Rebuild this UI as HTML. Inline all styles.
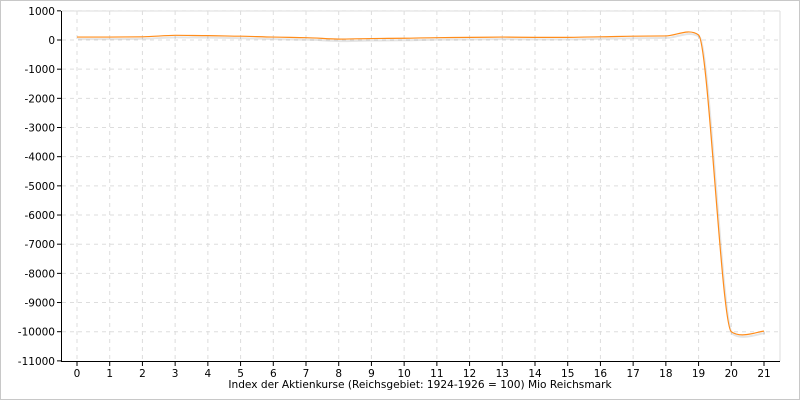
<!DOCTYPE html>
<html><head><meta charset="utf-8"><style>
body{margin:0;background:#fff;font-family:"DejaVu Sans","Liberation Sans",sans-serif}
#wrap{position:relative;width:798px;height:398px;border:1px solid #c8c8c8}
</style></head><body>
<div id="wrap">
<svg id="chart" width="798" height="398"></svg>
</div>
<script>
const xCategories=[0,1,2,3,4,5,6,7,8,9,10,11,12,13,14,15,16,17,18,19,20,21];
const seriesValues=[100,100,110,160,150,130,100,80,30,50,60,80,90,100,90,90,110,130,140,170,-10000,-9980];
const yTicks=[1000,0,-1000,-2000,-3000,-4000,-5000,-6000,-7000,-8000,-9000,-10000,-11000];
const xLabel="Index der Aktienkurse (Reichsgebiet: 1924-1926 = 100) Mio Reichsmark";

const svg=document.getElementById('chart');
const NS='http://www.w3.org/2000/svg';
const X0=76,X1=763,Y0=39,PX=(1000/29.17);
function xs(v){return X0+(v-0)*(X1-X0)/21;}
function ys(v){return Y0-v/PX;}
function mk(t,a,p){const e=document.createElementNS(NS,t);for(const k in a)e.setAttribute(k,a[k]);(p||svg).appendChild(e);return e;}
const g=mk('g',{});


yTicks.forEach(t=>{const y=ys(t);
 if(t!==-11000){mk('line',{x1:61,x2:779,y1:y,y2:y,stroke:'#ddd','stroke-dasharray':'4,4'},g);}
 mk('line',{x1:56,x2:60,y1:y,y2:y,stroke:'#000'});
 const tx=mk('text',{x:54,y:y+4,'text-anchor':'end','font-size':'10.5',fill:'#000'});tx.textContent=t;
 
 
});
xCategories.forEach(c=>{const x=xs(c);
 mk('line',{x1:x,x2:x,y1:10,y2:360,stroke:'#ddd','stroke-dasharray':'4,4'},g);
 mk('line',{x1:x,x2:x,y1:360,y2:365,stroke:'#000'});
 const tx=mk('text',{x:x,y:376,'text-anchor':'middle','font-size':'10.5',fill:'#000'});tx.textContent=c;
 
 
});
mk('line',{x1:779,x2:779,y1:10,y2:360,stroke:'#ddd'});
mk('line',{x1:61,x2:779,y1:10,y2:10,stroke:'#ddd'});
const ya=mk('line',{x1:60.5,x2:60.5,y1:10,y2:361,stroke:'#000'});


const xa=mk('line',{x1:60,x2:779,y1:360.5,y2:360.5,stroke:'#000'});


const lab=mk('text',{x:419,y:387,'text-anchor':'middle','font-size':'10.6',fill:'#000'});lab.textContent=xLabel;


const pts=xCategories.map((c,i)=>[xs(c),ys(seriesValues[i])]);
let d='M'+pts[0][0]+','+pts[0][1];
for(let i=0;i<pts.length-1;i++){const p0=pts[i-1]||pts[i],p1=pts[i],p2=pts[i+1],p3=pts[i+2]||p2,k=0.025;
 d+=` C${p1[0]+(p2[0]-p0[0])*0.15},${p1[1]+(p2[1]-p0[1])*k} ${p2[0]-(p3[0]-p1[0])*0.15},${p2[1]-(p3[1]-p1[1])*k} ${p2[0]},${p2[1]}`;}
const sh=mk('path',{d:d,fill:'none',stroke:'rgba(0,0,0,0.1)','stroke-width':2,transform:'translate(1,2)'});


const ln=mk('path',{d:d,fill:'none',stroke:'#ff8c1a','stroke-width':1.2});


</script>
</body></html>
